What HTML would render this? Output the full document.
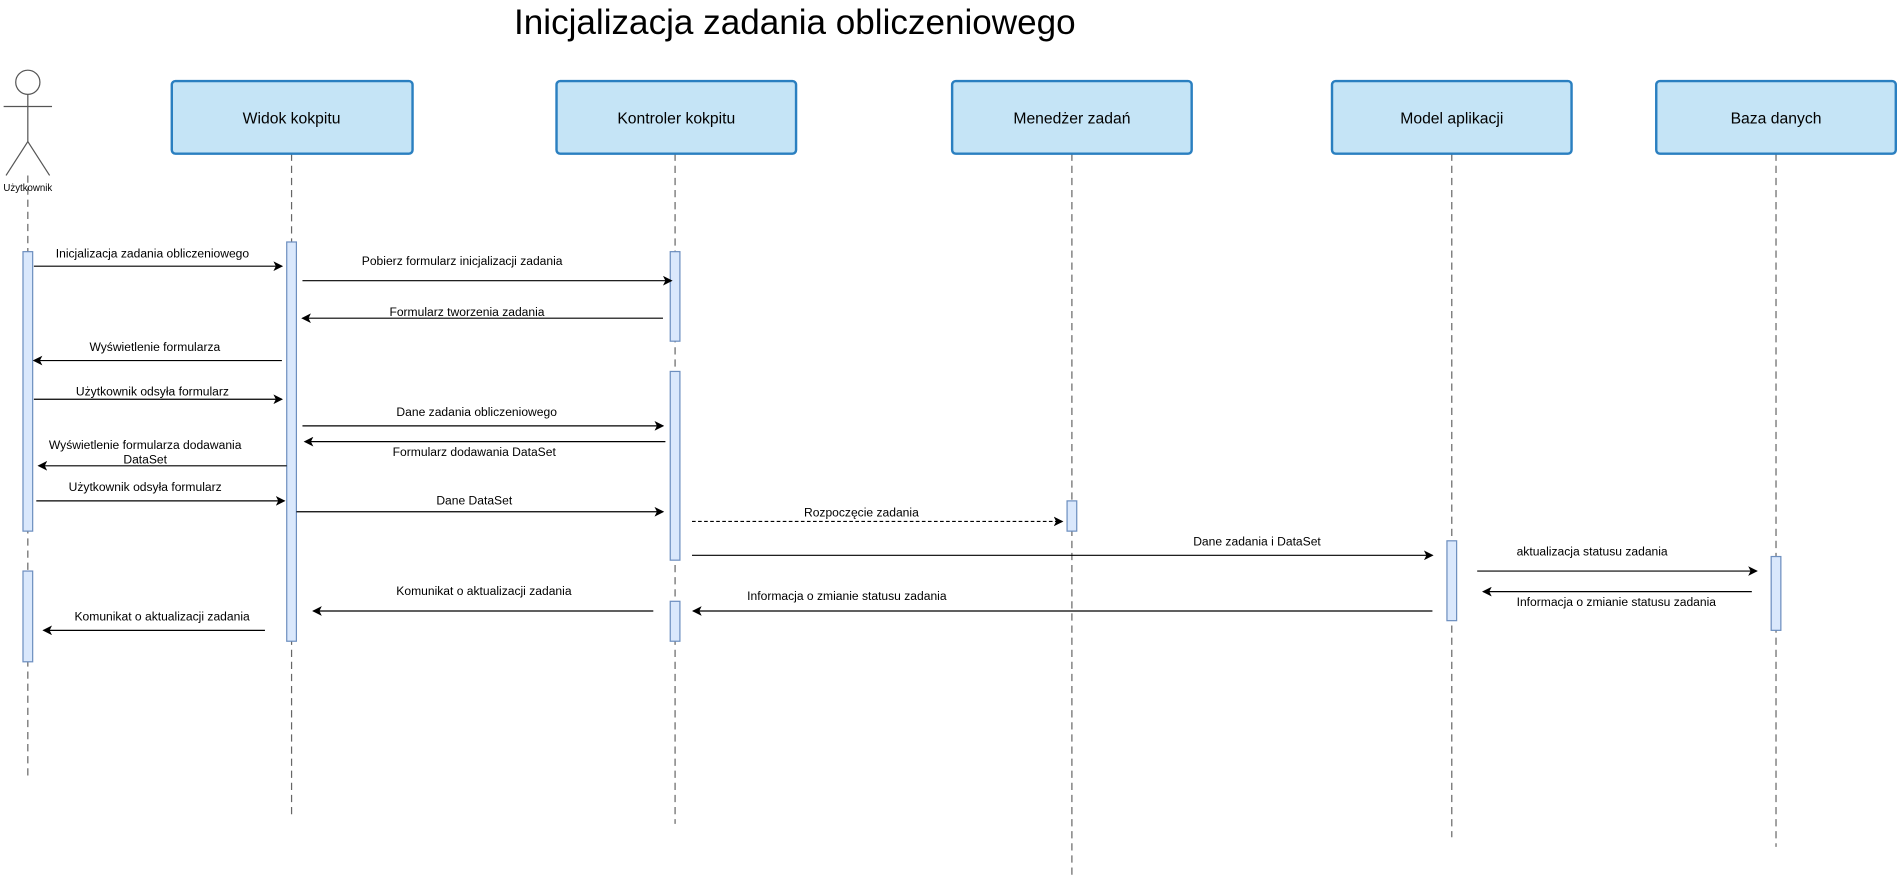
<!DOCTYPE html>
<html><head><meta charset="utf-8"><style>
html,body{margin:0;padding:0;background:#fff;}
svg{display:block;}
text{font-family:"Liberation Sans",sans-serif;fill:#000;}
</style></head><body>
<svg width="1897" height="882" viewBox="0 0 1568 729" xmlns="http://www.w3.org/2000/svg">
<defs>
<marker id="a" markerWidth="8" markerHeight="8" refX="7" refY="4" orient="auto" markerUnits="userSpaceOnUse">
<path d="M0,0 L8,4 L0,8 L2,4 Z" fill="#000"/></marker>
</defs>
<text x="657" y="28" font-size="29" text-anchor="middle">Inicjalizacja zadania obliczeniowego</text>
<!-- lifelines -->
<g stroke="#666" stroke-width="1" stroke-dasharray="6,4" fill="none">
<line x1="23" y1="145" x2="23" y2="642"/>
<line x1="241" y1="127" x2="241" y2="674"/>
<line x1="558" y1="127" x2="558" y2="681"/>
<line x1="886" y1="127" x2="886" y2="726"/>
<line x1="1200" y1="127" x2="1200" y2="692"/>
<line x1="1468" y1="127" x2="1468" y2="700"/>
</g>
<!-- actor -->
<g stroke="#555" stroke-width="1" fill="#fff">
<circle cx="23" cy="68" r="10"/>
<line x1="23" y1="78" x2="23" y2="117"/>
<line x1="3" y1="88" x2="43" y2="88"/>
<line x1="23" y1="117" x2="5" y2="145"/>
<line x1="23" y1="117" x2="41" y2="145"/>
</g>
<text x="23" y="158" font-size="8" text-anchor="middle" fill="#333">Użytkownik</text>
<!-- boxes -->
<g fill="#c5e4f6" stroke="#2a7fc0" stroke-width="2">
<rect x="142" y="67" width="199" height="60" rx="3"/>
<rect x="460" y="67" width="198" height="60" rx="3"/>
<rect x="787" y="67" width="198" height="60" rx="3"/>
<rect x="1101" y="67" width="198" height="60" rx="3"/>
<rect x="1369" y="67" width="198" height="60" rx="3"/>
</g>
<g font-size="13" text-anchor="middle">
<text x="241" y="102">Widok kokpitu</text>
<text x="559" y="102">Kontroler kokpitu</text>
<text x="886" y="102">Menedżer zadań</text>
<text x="1200" y="102">Model aplikacji</text>
<text x="1468" y="102">Baza danych</text>
</g>
<!-- activations -->
<g fill="#dae8fc" stroke="#6c8ebf" stroke-width="1">
<rect x="19" y="208" width="8" height="231"/>
<rect x="19" y="472" width="8" height="75"/>
<rect x="237" y="200" width="8" height="330"/>
<rect x="554" y="208" width="8" height="74"/>
<rect x="554" y="307" width="8" height="156"/>
<rect x="554" y="497" width="8" height="33"/>
<rect x="882" y="414" width="8" height="25"/>
<rect x="1196" y="447" width="8" height="66"/>
<rect x="1464" y="460" width="8" height="61"/>
</g>
<!-- messages -->
<g stroke="#000" stroke-width="1" marker-end="url(#a)">
<line x1="28" y1="220" x2="233" y2="220"/>
<line x1="250" y1="232" x2="555" y2="232"/>
<line x1="548" y1="263" x2="250" y2="263"/>
<line x1="233" y1="298" x2="28" y2="298"/>
<line x1="28" y1="330" x2="233" y2="330"/>
<line x1="250" y1="352" x2="548" y2="352"/>
<line x1="550" y1="365" x2="252" y2="365"/>
<line x1="237" y1="385" x2="32" y2="385"/>
<line x1="30" y1="414" x2="235" y2="414"/>
<line x1="245" y1="423" x2="548" y2="423"/>
<line x1="572" y1="431" x2="878" y2="431" stroke-dasharray="3,2"/>
<line x1="572" y1="459" x2="1184" y2="459"/>
<line x1="1221" y1="472" x2="1452" y2="472"/>
<line x1="1448" y1="489" x2="1226" y2="489"/>
<line x1="1184" y1="505" x2="573" y2="505"/>
<line x1="540" y1="505" x2="259" y2="505"/>
<line x1="219" y1="521" x2="36" y2="521"/>
</g>
<g font-size="10" text-anchor="middle">
<text x="126" y="213">Inicjalizacja zadania obliczeniowego</text>
<text x="382" y="219">Pobierz formularz inicjalizacji zadania</text>
<text x="386" y="261">Formularz tworzenia zadania</text>
<text x="128" y="290">Wyświetlenie formularza</text>
<text x="126" y="327">Użytkownik odsyła formularz</text>
<text x="394" y="344">Dane zadania obliczeniowego</text>
<text x="392" y="377">Formularz dodawania DataSet</text>
<text x="120" y="371">Wyświetlenie formularza dodawania</text>
<text x="120" y="383">DataSet</text>
<text x="120" y="406">Użytkownik odsyła formularz</text>
<text x="392" y="417">Dane DataSet</text>
<text x="712" y="427">Rozpoczęcie zadania</text>
<text x="1039" y="451">Dane zadania i DataSet</text>
<text x="1316" y="459">aktualizacja statusu zadania</text>
<text x="1336" y="501">Informacja o zmianie statusu zadania</text>
<text x="700" y="496">Informacja o zmianie statusu zadania</text>
<text x="400" y="492">Komunikat o aktualizacji zadania</text>
<text x="134" y="513">Komunikat o aktualizacji zadania</text>
</g>
</svg>
</body></html>
